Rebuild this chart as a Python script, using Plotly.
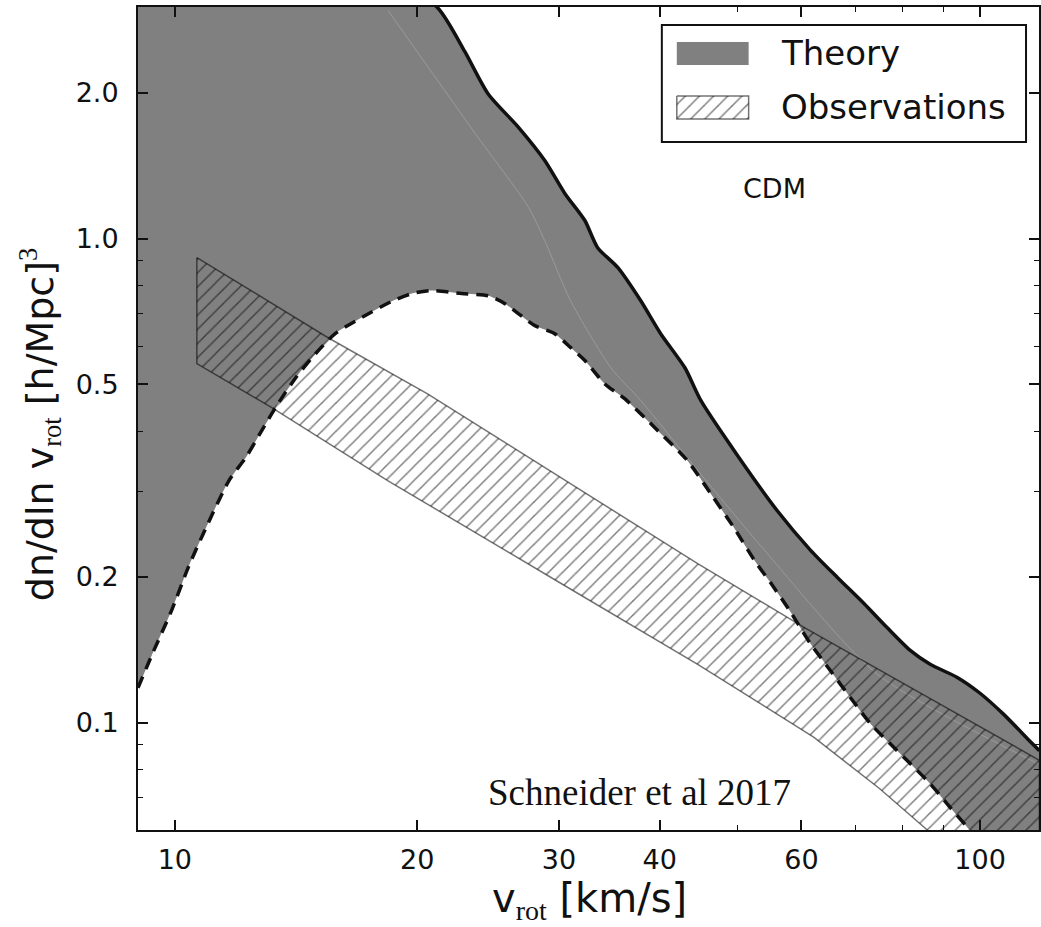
import numpy as np
import plotly.graph_objects as go

# ---------------- data ----------------
# Theory: upper envelope (solid line)
theory_upper_v = [9.0, 12.0, 15.0, 18.0, 21.2, 22.9, 24.5, 26.7, 28.8, 30.5, 32.3, 33.5,
                  35.5, 37.9, 40.1, 43.0, 45.0, 50.0, 56.0, 61.6, 66.5, 71.8, 76.7, 81.9,
                  86.7, 93.7, 100.0, 107.0, 115.0, 118.5]
theory_upper_n = [5.5, 4.9, 4.2, 3.6, 3.0, 2.44, 1.99, 1.70, 1.45, 1.24, 1.09, 0.958,
                  0.871, 0.744, 0.637, 0.541, 0.463, 0.356, 0.274, 0.227, 0.1995, 0.176, 0.157, 0.141,
                  0.132, 0.124, 0.115, 0.104, 0.092, 0.0875]

# Theory: lower envelope (dashed line)
theory_lower_v = [9.0, 9.4, 9.9, 10.4, 10.9, 11.67, 12.25, 12.82, 13.34, 14.13, 14.96, 15.83,
                  17.06, 18.6, 19.7, 20.8, 22.7, 24.5, 25.7, 26.7, 28.0, 29.6, 31.0, 32.3,
                  34.2, 36.2, 39.8, 43.3, 46.5, 49.3, 52.5, 55.0, 58.2, 61.5, 65.2, 69.0,
                  73.1, 77.3, 81.9, 86.7, 91.8, 97.2, 100.0, 118.5]
theory_lower_n = [0.118, 0.14, 0.17, 0.21, 0.25, 0.316, 0.353, 0.401, 0.448, 0.516, 0.579, 0.637,
                  0.687, 0.742, 0.770, 0.781, 0.770, 0.762, 0.734, 0.700, 0.661, 0.637, 0.596, 0.560,
                  0.501, 0.467, 0.401, 0.348, 0.294, 0.255, 0.216, 0.194, 0.169, 0.146, 0.128, 0.1127,
                  0.0995, 0.0905, 0.0823, 0.0748, 0.0668, 0.0598, 0.056, 0.040]

# Theory: faint median line
theory_mid_v = [18.4, 23.6, 27.5, 28.8, 31.0, 34.8, 37.9, 44.6, 54.0, 74.5, 118.5]
theory_mid_n = [2.96, 1.65, 1.16, 0.99, 0.745, 0.541, 0.463, 0.332, 0.227, 0.126, 0.082]

# Observations band
obs_upper_v = [10.65, 15.5, 20.6, 30.0, 44.6, 60.6, 85.0, 118.5]
obs_upper_n = [0.914, 0.624, 0.478, 0.323, 0.213, 0.157, 0.114, 0.0836]
obs_lower_v = [10.65, 13.18, 18.4, 30.0, 44.6, 62.2, 75.0, 86.0, 100.0, 118.5]
obs_lower_n = [0.552, 0.448, 0.316, 0.195, 0.132, 0.0932, 0.0731, 0.060, 0.048, 0.037]

x_ticks = [10, 20, 30, 40, 60, 100]
x_ticklabels = ["10", "20", "30", "40", "60", "100"]
x_minor = [50, 70, 80, 90]
y_ticks = [0.1, 0.2, 0.5, 1.0, 2.0]
y_ticklabels = ["0.1", "0.2", "0.5", "1.0", "2.0"]
y_minor = [0.07, 0.08, 0.09, 0.3, 0.4, 0.6, 0.7, 0.8, 0.9]

legend_labels = ["Theory", "Observations"]

# ---------------- figure ----------------
W, H = 1041, 927
L, R, T, B = 138, 0, 7, 97
PW, PH = W - L - R, H - T - B
FONT = "DejaVu Sans"
GRAY = "#808080"
INK = "#111111"
EDGE = "rgba(0,0,0,0.55)"
SMOOTH = 0.7
HATCH = dict(shape="/", size=10, solidity=0.15, fgcolor="black",
             fgopacity=0.5, bgcolor="rgba(0,0,0,0)")

fig = go.Figure()

# theory band: lower edge (invisible) then upper edge filled to it
fig.add_trace(go.Scatter(
    x=theory_lower_v, y=theory_lower_n, mode="lines",
    line=dict(width=0, shape="spline", smoothing=SMOOTH),
    hoverinfo="skip", showlegend=False))
fig.add_trace(go.Scatter(
    x=theory_upper_v, y=theory_upper_n, mode="lines", fill="tonexty", fillcolor=GRAY,
    line=dict(width=0, shape="spline", smoothing=SMOOTH),
    hoverinfo="skip", showlegend=False))

# faint median line inside the band
fig.add_trace(go.Scatter(
    x=theory_mid_v, y=theory_mid_n, mode="lines",
    line=dict(color="#9a9a9a", width=1, shape="spline", smoothing=SMOOTH),
    hoverinfo="skip", showlegend=False))

# observations band (hatched)
fig.add_trace(go.Scatter(
    x=obs_upper_v + obs_lower_v[::-1] + [obs_upper_v[0]],
    y=obs_upper_n + obs_lower_n[::-1] + [obs_upper_n[0]],
    mode="lines", fill="toself", fillcolor="rgba(0,0,0,0)", fillpattern=HATCH,
    line=dict(color=EDGE, width=1.5),
    hoverinfo="skip", showlegend=False))

# theory envelopes
fig.add_trace(go.Scatter(
    x=theory_upper_v, y=theory_upper_n, mode="lines",
    line=dict(color=INK, width=3.5, shape="spline", smoothing=SMOOTH),
    hoverinfo="skip", showlegend=False))
fig.add_trace(go.Scatter(
    x=theory_lower_v, y=theory_lower_n, mode="lines",
    line=dict(color=INK, width=3.5, dash="12px,8px", shape="spline", smoothing=SMOOTH),
    hoverinfo="skip", showlegend=False))

# ---- custom legend on a pixel overlay axis ----
lx0, lx1 = 678, 750
fig.add_trace(go.Scatter(
    x=[lx0, lx1, lx1, lx0, lx0], y=[42, 42, 65, 65, 42], xaxis="x2", yaxis="y2",
    mode="lines", fill="toself", fillcolor=GRAY, line=dict(width=0),
    hoverinfo="skip", showlegend=False))
fig.add_trace(go.Scatter(
    x=[lx0, lx1, lx1, lx0, lx0], y=[96, 96, 119, 119, 96], xaxis="x2", yaxis="y2",
    mode="lines", fill="toself", fillcolor="rgba(0,0,0,0)", fillpattern=HATCH,
    line=dict(color=EDGE, width=1.5),
    hoverinfo="skip", showlegend=False))

shapes = [dict(type="rect", xref="x2", yref="y2", x0=663, x1=1028, y0=25, y1=142,
               line=dict(color=INK, width=2), fillcolor="rgba(0,0,0,0)", layer="above")]


def px_x(p):
    return (p - L) / PW


def px_y(p):
    return (H - B - p) / PH


annotations = [
    dict(text=legend_labels[0], xref="x2", yref="y2", x=780, y=53, xanchor="left", yanchor="middle",
         showarrow=False, font=dict(family=FONT, size=34, color=INK)),
    dict(text=legend_labels[1], xref="x2", yref="y2", x=780, y=107, xanchor="left", yanchor="middle",
         showarrow=False, font=dict(family=FONT, size=34, color=INK)),
    dict(text="CDM", xref="x2", yref="y2", x=742, y=188, xanchor="left", yanchor="middle",
         showarrow=False, font=dict(family=FONT, size=27, color=INK)),
    dict(text="Schneider et al 2017", xref="x2", yref="y2", x=641, y=792, xanchor="center",
         yanchor="middle", showarrow=False,
         font=dict(family="Liberation Serif", size=37, color=INK)),
    dict(text="v<sub><span style=\"font-family:Liberation Serif\">rot</span></sub> [km/s]",
         xref="paper", yref="paper", x=px_x(591), y=px_y(900), xanchor="center", yanchor="middle",
         showarrow=False, font=dict(family=FONT, size=40, color=INK)),
    dict(text="dn/dln v<sub><span style=\"font-family:Liberation Serif\">rot</span></sub> [h/Mpc]"
              "<sup><span style=\"font-family:Liberation Serif\">3</span></sup>",
         xref="paper", yref="paper", x=px_x(40), y=px_y(424), xanchor="center",
         yanchor="middle", textangle=-90, showarrow=False,
         font=dict(family=FONT, size=38, color=INK)),
]

axis_common = dict(showgrid=False, zeroline=False, showline=True, linecolor=INK,
                   linewidth=2, mirror="ticks", ticks="inside", ticklen=10, tickwidth=1.5,
                   tickcolor=INK, tickfont=dict(family=FONT, size=27, color=INK))

fig.update_layout(
    width=W, height=H, margin=dict(l=L, r=R, t=T, b=B, pad=0),
    paper_bgcolor="white", plot_bgcolor="white", showlegend=False,
    xaxis=dict(type="log", range=[np.log10(9.0), np.log10(9.0) + PW / 807.0],
               tickmode="array", tickvals=x_ticks, ticktext=x_ticklabels,
               minor=dict(tickmode="array", tickvals=x_minor, ticks="inside", ticklen=5,
                          tickwidth=1.2, tickcolor=INK, showgrid=False),
               ticklabelstandoff=5, **axis_common),
    yaxis=dict(type="log", range=[np.log10(0.06), np.log10(0.06) + PH / 484.0],
               tickmode="array", tickvals=y_ticks, ticktext=y_ticklabels,
               minor=dict(tickmode="array", tickvals=y_minor, ticks="inside", ticklen=5,
                          tickwidth=1.2, tickcolor=INK, showgrid=False),
               ticklabelstandoff=12, **axis_common),
    xaxis2=dict(overlaying="x", range=[L, W - R], visible=False, fixedrange=True),
    yaxis2=dict(overlaying="y", range=[H - B, T], visible=False, fixedrange=True),
    shapes=shapes, annotations=annotations,
)

fig.write_html("out.html")
